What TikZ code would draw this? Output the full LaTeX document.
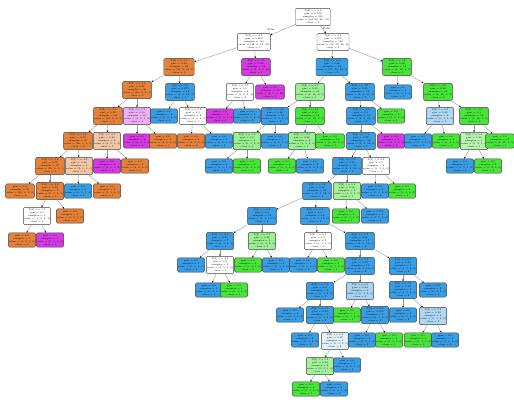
\documentclass[tikz,border=0pt]{standalone}
\definecolor{treeorange}{RGB}{229, 129, 57}
\definecolor{treegreen}{RGB}{72, 229, 57}
\definecolor{treeblue}{RGB}{57, 157, 229}
\definecolor{treepurple}{RGB}{215, 57, 229}
\usepackage{tikz}
\usetikzlibrary{arrows.meta}
\newcommand{\stxt}[6]{X[#1] <= #2\\gini = #3\\samples = #4\\value = [#5]\\class = #6}
\newcommand{\ltxt}[4]{gini = #1\\samples = #2\\value = [#3]\\class = #4}

\begin{document}
\begin{tikzpicture}[
  x=0.03cm, y=-0.03cm,
  dsplit/.style={draw=black!75, line width=0.3pt, rounded corners=1.2pt, align=center, inner sep=0.4pt,
    font=\fontsize{2}{2.55}\selectfont, minimum width=0.76cm, minimum height=0.52cm},
  dleaf/.style={dsplit, minimum width=0.7cm, minimum height=0.43cm},
  branch/.style={draw=black!40, line width=0.35pt, -{Stealth[length=1.6pt, width=1.4pt, color=black]}}
]
  \useasboundingbox (0,0) rectangle (514,400);

  % depth 0-3
  \node[dsplit, fill=white, minimum width=1.05cm] (n0) at (313,17) {\stxt{3}{0.5}{0.748}{250}{62, 58, 80, 50}{2}};
  \node[dsplit, fill=white, minimum width=0.98cm] (n1) at (254,42) {\stxt{0}{4.5}{0.662}{110}{48, 6, 14, 42}{0}};
  \node[dsplit, fill=white, minimum width=0.95cm] (n2) at (333,42) {\stxt{1}{2.5}{0.571}{140}{14, 52, 66, 8}{2}};
  \node[dsplit, fill=treeorange] (n3) at (179,67) {\stxt{2}{3.5}{0.42}{62}{46, 2, 12, 2}{0}};
  \node[dsplit, fill=treepurple] (n4) at (256,67) {\stxt{4}{1.5}{0.28}{48}{2, 4, 2, 40}{3}};
  \node[dsplit, fill=treeblue] (n5) at (332,67) {\stxt{0}{6.5}{0.49}{86}{10, 20, 54, 2}{2}};
  \node[dsplit, fill=treegreen] (n6) at (397,67) {\stxt{2}{1.5}{0.38}{54}{4, 42, 6, 2}{1}};
  \node[dsplit, fill=treeorange] (n7) at (137,90) {\stxt{1}{3.5}{0.31}{46}{38, 2, 2, 4}{0}};
  \node[dsplit, fill=treeblue] (n8) at (180,92) {\stxt{3}{2.5}{0.375}{16}{4, 0, 12, 0}{2}};
  \node[dsplit, fill=white] (n9) at (240,92) {\stxt{5}{0.5}{0.5}{8}{0, 0, 4, 4}{2}};
  \node[dleaf, fill=treepurple] (n10) at (270,92) {\ltxt{0.0}{36}{0, 0, 0, 36}{3}};
  \node[dsplit, fill=treegreen!55] (n11) at (310,92) {\stxt{4}{2.5}{0.55}{30}{4, 16, 9, 1}{1}};
  \node[dsplit, fill=treeblue] (n12) at (360,92) {\stxt{5}{3.5}{0.35}{56}{6, 8, 41, 1}{2}};
  \node[dleaf, fill=treeblue] (n13) at (398,92) {\ltxt{0.0}{5}{0, 0, 5, 0}{2}};
  \node[dsplit, fill=treegreen] (n14) at (438,92) {\stxt{0}{2.5}{0.28}{49}{4, 42, 1, 2}{1}};

  % depth 4
  \node[dsplit, fill=treeorange] (n15) at (108,116) {\stxt{5}{2.5}{0.22}{36}{32, 2, 0, 2}{0}};
  \node[dsplit, fill=treepurple!40] (n16) at (137,116) {\stxt{0}{5.5}{0.54}{10}{3, 0, 1, 6}{3}};
  \node[dleaf, fill=treeblue] (n17) at (164,116) {\ltxt{0.0}{8}{0, 0, 8, 0}{2}};
  \node[dsplit, fill=white] (n18) at (193,116) {\stxt{2}{4.5}{0.5}{8}{4, 0, 4, 0}{0}};
  \node[dleaf, fill=treepurple] (n19) at (220,116) {\ltxt{0.0}{4}{0, 0, 0, 4}{3}};
  \node[dleaf, fill=treeblue] (n20) at (247,116) {\ltxt{0.0}{4}{0, 0, 4, 0}{2}};
  \node[dsplit, fill=treeblue] (n21) at (275,116) {\stxt{1}{1.5}{0.48}{12}{1, 4, 7, 0}{2}};
  \node[dsplit, fill=treegreen] (n22) at (310,116) {\stxt{3}{3.5}{0.35}{18}{3, 12, 2, 1}{1}};
  \node[dsplit, fill=treeblue] (n23) at (361,116) {\stxt{4}{4.5}{0.3}{50}{6, 2, 41, 1}{2}};
  \node[dleaf, fill=treegreen] (n24) at (391,116) {\ltxt{0.0}{6}{0, 6, 0, 0}{1}};
  \node[dsplit, fill=treeblue!40] (n25) at (440,116) {\stxt{2}{6.5}{0.49}{9}{0, 4, 5, 0}{2}};
  \node[dsplit, fill=treegreen] (n26) at (474,116) {\stxt{5}{1.5}{0.1}{40}{1, 38, 0, 1}{1}};

  % depth 5
  \node[dsplit, fill=treeorange] (n27) at (78,141) {\stxt{4}{3.5}{0.15}{30}{28, 1, 0, 1}{0}};
  \node[dsplit, fill=treeorange!45] (n28) at (107,141) {\stxt{1}{0.5}{0.44}{6}{4, 0, 0, 2}{0}};
  \node[dleaf, fill=treepurple] (n29) at (137,141) {\ltxt{0.0}{6}{0, 0, 0, 6}{3}};
  \node[dleaf, fill=treeorange] (n30) at (163,141) {\ltxt{0.0}{4}{4, 0, 0, 0}{0}};
  \node[dleaf, fill=treeorange] (n31) at (191,141) {\ltxt{0.0}{4}{4, 0, 0, 0}{0}};
  \node[dleaf, fill=treeblue] (n32) at (219,141) {\ltxt{0.0}{4}{0, 0, 4, 0}{2}};
  \node[dsplit, fill=treegreen!55] (n33) at (247,141) {\stxt{0}{1.5}{0.5}{5}{0, 3, 2, 0}{1}};
  \node[dleaf, fill=treeblue] (n34) at (275,141) {\ltxt{0.0}{7}{0, 0, 7, 0}{2}};
  \node[dsplit, fill=treegreen!55] (n35) at (302,141) {\stxt{2}{2.5}{0.56}{8}{1, 5, 2, 0}{1}};
  \node[dleaf, fill=treegreen] (n36) at (330,141) {\ltxt{0.0}{10}{0, 10, 0, 0}{1}};
  \node[dsplit, fill=treeblue] (n37) at (361,141) {\stxt{0}{7.5}{0.27}{46}{5, 2, 39, 0}{2}};
  \node[dleaf, fill=treepurple] (n38) at (391,141) {\ltxt{0.0}{4}{0, 0, 0, 4}{3}};
  \node[dleaf, fill=treeblue] (n39) at (418,141) {\ltxt{0.0}{5}{0, 0, 5, 0}{2}};
  \node[dleaf, fill=treegreen] (n40) at (446,141) {\ltxt{0.0}{4}{0, 4, 0, 0}{1}};
  \node[dsplit, fill=treegreen!40] (n41) at (474,141) {\stxt{4}{0.5}{0.44}{3}{0, 2, 1, 0}{1}};
  \node[dleaf, fill=treegreen] (n42) at (500,141) {\ltxt{0.0}{37}{0, 37, 0, 0}{1}};

  % depth 6
  \node[dsplit, fill=treeorange] (n43) at (50,166) {\stxt{2}{1.5}{0.07}{27}{26, 0, 0, 1}{0}};
  \node[dsplit, fill=treeorange!45] (n44) at (79,166) {\stxt{5}{4.5}{0.44}{3}{2, 0, 1, 0}{0}};
  \node[dleaf, fill=treepurple] (n45) at (107,166) {\ltxt{0.0}{2}{0, 0, 0, 2}{3}};
  \node[dleaf, fill=treeorange] (n46) at (135,166) {\ltxt{0.0}{4}{4, 0, 0, 0}{0}};
  \node[dleaf, fill=treeblue] (n47) at (219,166) {\ltxt{0.0}{2}{0, 0, 2, 0}{2}};
  \node[dleaf, fill=treegreen] (n48) at (247,166) {\ltxt{0.0}{3}{0, 3, 0, 0}{1}};
  \node[dleaf, fill=treegreen] (n49) at (282,166) {\ltxt{0.0}{5}{0, 5, 0, 0}{1}};
  \node[dleaf, fill=treeblue] (n50) at (310,166) {\ltxt{0.0}{2}{0, 0, 2, 0}{2}};
  \node[dsplit, fill=treeblue] (n51) at (347,166) {\stxt{3}{5.5}{0.22}{40}{3, 2, 35, 0}{2}};
  \node[dsplit, fill=white] (n52) at (376,166) {\stxt{1}{4.5}{0.5}{6}{0, 3, 3, 0}{1}};
  \node[dleaf, fill=treeblue] (n53) at (460,166) {\ltxt{0.0}{1}{0, 0, 1, 0}{2}};
  \node[dleaf, fill=treegreen] (n54) at (488,166) {\ltxt{0.0}{2}{0, 2, 0, 0}{1}};

  % depth 7-8
  \node[dleaf, fill=treeorange] (n55) at (20,191) {\ltxt{0.0}{20}{20, 0, 0, 0}{0}};
  \node[dsplit, fill=treeorange] (n56) at (50,191) {\stxt{0}{3.5}{0.24}{7}{6, 0, 0, 1}{0}};
  \node[dleaf, fill=treeblue] (n57) at (78,191) {\ltxt{0.0}{1}{0, 0, 1, 0}{2}};
  \node[dleaf, fill=treeorange] (n58) at (107,191) {\ltxt{0.0}{2}{2, 0, 0, 0}{0}};
  \node[dsplit, fill=treeblue] (n59) at (317,191) {\stxt{5}{5.5}{0.18}{31}{2, 1, 28, 0}{2}};
  \node[dsplit, fill=treegreen!50] (n60) at (347,191) {\stxt{2}{5.5}{0.56}{9}{1, 5, 3, 0}{1}};
  \node[dleaf, fill=treeblue] (n61) at (375,191) {\ltxt{0.0}{3}{0, 0, 3, 0}{2}};
  \node[dleaf, fill=treegreen] (n62) at (402,191) {\ltxt{0.0}{3}{0, 3, 0, 0}{1}};
  \node[dsplit, fill=white] (n63) at (37,216) {\stxt{4}{1.5}{0.5}{2}{1, 0, 0, 1}{0}};
  \node[dleaf, fill=treeorange] (n64) at (70,216) {\ltxt{0.0}{5}{5, 0, 0, 0}{0}};
  \node[dsplit, fill=treeblue] (n65) at (262,216) {\stxt{1}{5.5}{0.3}{12}{1, 1, 10, 0}{2}};
  \node[dsplit, fill=treeblue] (n66) at (315,216) {\stxt{3}{6.5}{0.1}{19}{1, 0, 18, 0}{2}};
  \node[dleaf, fill=treegreen] (n67) at (346,216) {\ltxt{0.0}{5}{0, 5, 0, 0}{1}};
  \node[dleaf, fill=treeblue] (n68) at (375,216) {\ltxt{0.375}{4}{1, 0, 3, 0}{2}};

  % depth 9-10
  \node[dleaf, fill=treeorange] (n69) at (22,240) {\ltxt{0.0}{1}{1, 0, 0, 0}{0}};
  \node[dleaf, fill=treepurple] (n70) at (50,240) {\ltxt{0.0}{1}{0, 0, 0, 1}{3}};
  \node[dsplit, fill=treeblue] (n71) at (220,241) {\stxt{0}{2.5}{0.24}{7}{0, 1, 6, 0}{2}};
  \node[dsplit, fill=treegreen!55] (n72) at (262,241) {\stxt{5}{2.5}{0.48}{5}{0, 3, 2, 0}{1}};
  \node[dsplit, fill=white] (n73) at (318,241) {\stxt{2}{0.5}{0.5}{2}{0, 1, 1, 0}{1}};
  \node[dsplit, fill=treeblue] (n74) at (360,241) {\stxt{4}{5.5}{0.06}{17}{1, 0, 16, 0}{2}};
  \node[dleaf, fill=treeblue] (n75) at (191,265) {\ltxt{0.0}{5}{0, 0, 5, 0}{2}};
  \node[dsplit, fill=white] (n76) at (220,265) {\stxt{3}{4.5}{0.5}{2}{0, 1, 1, 0}{1}};
  \node[dleaf, fill=treegreen] (n77) at (248,265) {\ltxt{0.0}{3}{0, 3, 0, 0}{1}};
  \node[dleaf, fill=treeblue] (n78) at (276,265) {\ltxt{0.0}{2}{0, 0, 2, 0}{2}};
  \node[dleaf, fill=treeblue] (n79) at (303,265) {\ltxt{0.0}{1}{0, 0, 1, 0}{2}};
  \node[dleaf, fill=treegreen] (n80) at (331,265) {\ltxt{0.0}{1}{0, 1, 0, 0}{1}};
  \node[dsplit, fill=treeblue] (n81) at (360,266) {\stxt{1}{6.5}{0.12}{11}{0, 1, 10, 0}{2}};
  \node[dsplit, fill=treeblue] (n82) at (403,266) {\stxt{0}{8.5}{0.24}{7}{1, 0, 6, 0}{2}};

  % depth 11-15
  \node[dleaf, fill=treeblue] (n83) at (209,290) {\ltxt{0.0}{1}{0, 0, 1, 0}{2}};
  \node[dleaf, fill=treegreen] (n84) at (234,290) {\ltxt{0.0}{1}{0, 1, 0, 0}{1}};
  \node[dsplit, fill=treeblue] (n85) at (320,291) {\stxt{2}{7.5}{0.2}{9}{0, 1, 8, 0}{2}};
  \node[dsplit, fill=treeblue!45] (n86) at (360,291) {\stxt{5}{6.5}{0.44}{3}{0, 1, 2, 0}{2}};
  \node[dsplit, fill=treeblue] (n87) at (403,290) {\stxt{3}{7.5}{0.32}{5}{1, 0, 4, 0}{2}};
  \node[dleaf, fill=treeblue] (n88) at (433,290) {\ltxt{0.0}{2}{0, 0, 2, 0}{2}};
  \node[dleaf, fill=treeblue] (n89) at (290,315) {\ltxt{0.0}{4}{0, 0, 4, 0}{2}};
  \node[dsplit, fill=treeblue] (n90) at (320,315) {\stxt{4}{6.5}{0.32}{5}{0, 1, 4, 0}{2}};
  \node[dleaf, fill=treegreen] (n91) at (347,315) {\ltxt{0.0}{1}{0, 1, 0, 0}{1}};
  \node[dsplit, fill=treeblue] (n92) at (375,315) {\stxt{0}{9.5}{0.375}{4}{0, 1, 3, 0}{2}};
  \node[dleaf, fill=treeblue] (n93) at (403,315) {\ltxt{0.0}{3}{0, 0, 3, 0}{2}};
  \node[dsplit, fill=treeblue!40] (n94) at (433,316) {\stxt{1}{7.5}{0.44}{3}{0, 1, 2, 0}{2}};
  \node[dleaf, fill=treeblue] (n95) at (305,340) {\ltxt{0.0}{2}{0, 0, 2, 0}{2}};
  \node[dsplit, fill=treeblue!15] (n96) at (335,341) {\stxt{2}{8.5}{0.48}{3}{0, 1, 2, 0}{2}};
  \node[dleaf, fill=treeblue] (n97) at (362,340) {\ltxt{0.0}{3}{0, 0, 3, 0}{2}};
  \node[dleaf, fill=treegreen] (n98) at (389,340) {\ltxt{0.0}{1}{0, 1, 0, 0}{1}};
  \node[dleaf, fill=treegreen] (n99) at (418,340) {\ltxt{0.0}{1}{0, 1, 0, 0}{1}};
  \node[dleaf, fill=treeblue] (n100) at (445,340) {\ltxt{0.0}{2}{0, 0, 2, 0}{2}};
  \node[dsplit, fill=treegreen!50] (n101) at (320,366) {\stxt{5}{7.5}{0.44}{3}{0, 2, 1, 0}{1}};
  \node[dleaf, fill=treeblue] (n102) at (347,365) {\ltxt{0.0}{1}{0, 0, 1, 0}{2}};
  \node[dleaf, fill=treegreen] (n103) at (306,389) {\ltxt{0.0}{1}{0, 1, 0, 0}{1}};
  \node[dleaf, fill=treeblue] (n104) at (334,389) {\ltxt{0.0}{1}{0, 0, 1, 0}{2}};

  \node[font=\fontsize{2.2}{2.6}\selectfont] (ltrue) at (271,30) {True};
  \node[font=\fontsize{2.2}{2.6}\selectfont] (lfalse) at (327,29) {False};

  \foreach \p/\c in {0/1, 0/2, 1/3, 1/4, 2/5, 2/6, 3/7, 3/8, 4/9, 4/10, 5/11, 5/12, 6/13, 6/14,
      7/15, 7/16, 8/17, 8/18, 9/19, 9/20, 11/21, 11/22, 12/23, 12/24, 14/25, 14/26,
      15/27, 15/28, 16/29, 16/30, 18/31, 18/32, 21/33, 21/34, 22/35, 22/36, 23/37, 23/38,
      25/39, 25/40, 26/41, 26/42, 27/43, 27/44, 28/45, 28/46, 33/47, 33/48, 35/49, 35/50,
      37/51, 37/52, 41/53, 41/54, 43/55, 43/56, 44/57, 44/58, 51/59, 51/60, 52/61, 52/62,
      56/63, 56/64, 59/65, 59/66, 60/67, 60/68, 63/69, 63/70, 65/71, 65/72, 66/73, 66/74,
      71/75, 71/76, 72/77, 72/78, 73/79, 73/80, 74/81, 74/82, 76/83, 76/84, 81/85, 81/86,
      82/87, 82/88, 85/89, 85/90, 86/91, 86/92, 87/93, 87/94, 90/95, 90/96, 92/97, 92/98,
      94/99, 94/100, 96/101, 96/102, 101/103, 101/104}
    \draw[branch] (n\p) -- (n\c);
\end{tikzpicture}
\end{document}
